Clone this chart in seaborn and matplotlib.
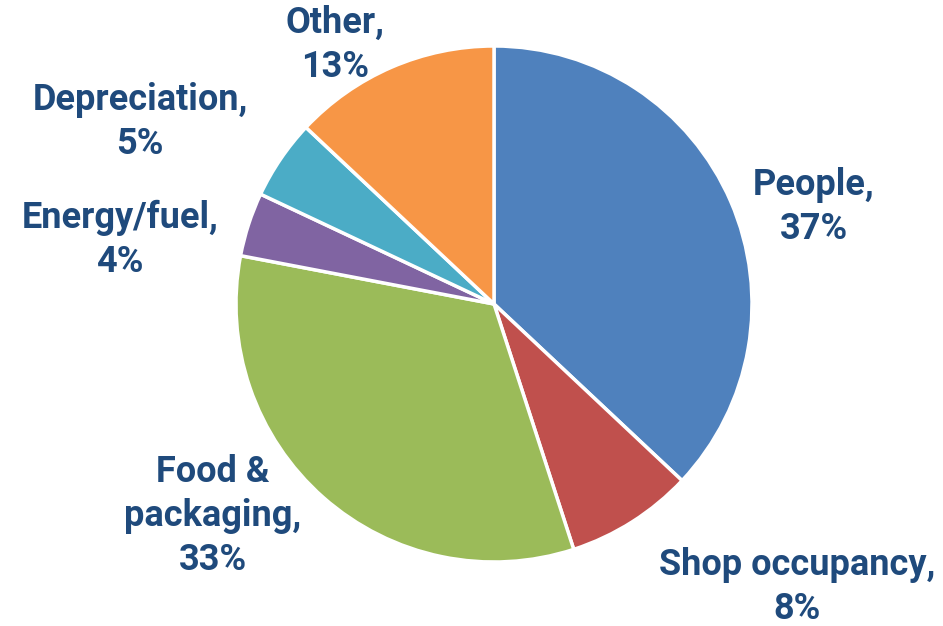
import matplotlib
matplotlib.use("Agg")
import matplotlib.pyplot as plt
import seaborn as sns

sns.set_theme(style="white")
plt.rcParams['font.family'] = ['Roboto', 'DejaVu Sans']

categories = ["People", "Shop occupancy", "Food &\npackaging", "Energy/fuel", "Depreciation", "Other"]
values = [37, 8, 33, 4, 5, 13]
colors = ["#4F81BD", "#C0504D", "#9BBB59", "#8064A2", "#4BACC6", "#F79646"]
# label centres in figure pixels (x, y from top)
label_pos = [(814, 207), (797, 587), (213, 516), (120, 240), (140, 122), (335, 45)]

W, H = 943, 626
fig = plt.figure(figsize=(W / 100, H / 100), dpi=100)
cx, cy, r = 494, 304, 258
ax = fig.add_axes([(cx - r) / W, (H - cy - r) / H, 2 * r / W, 2 * r / H])
ax.pie(values, colors=colors, startangle=90, counterclock=False, radius=1,
       wedgeprops=dict(edgecolor="white", linewidth=2.5))
ax.set_xlim(-1, 1)
ax.set_ylim(-1, 1)
ax.set_axis_off()

for cat, v, (px, py) in zip(categories, values, label_pos):
    fig.text(px / W, 1 - py / H, f"{cat},\n{v}%", ha="center", va="center",
             fontsize=26, fontweight="bold", color="#1F4A7C", linespacing=1.28)

fig.savefig("out.png", dpi=100)
